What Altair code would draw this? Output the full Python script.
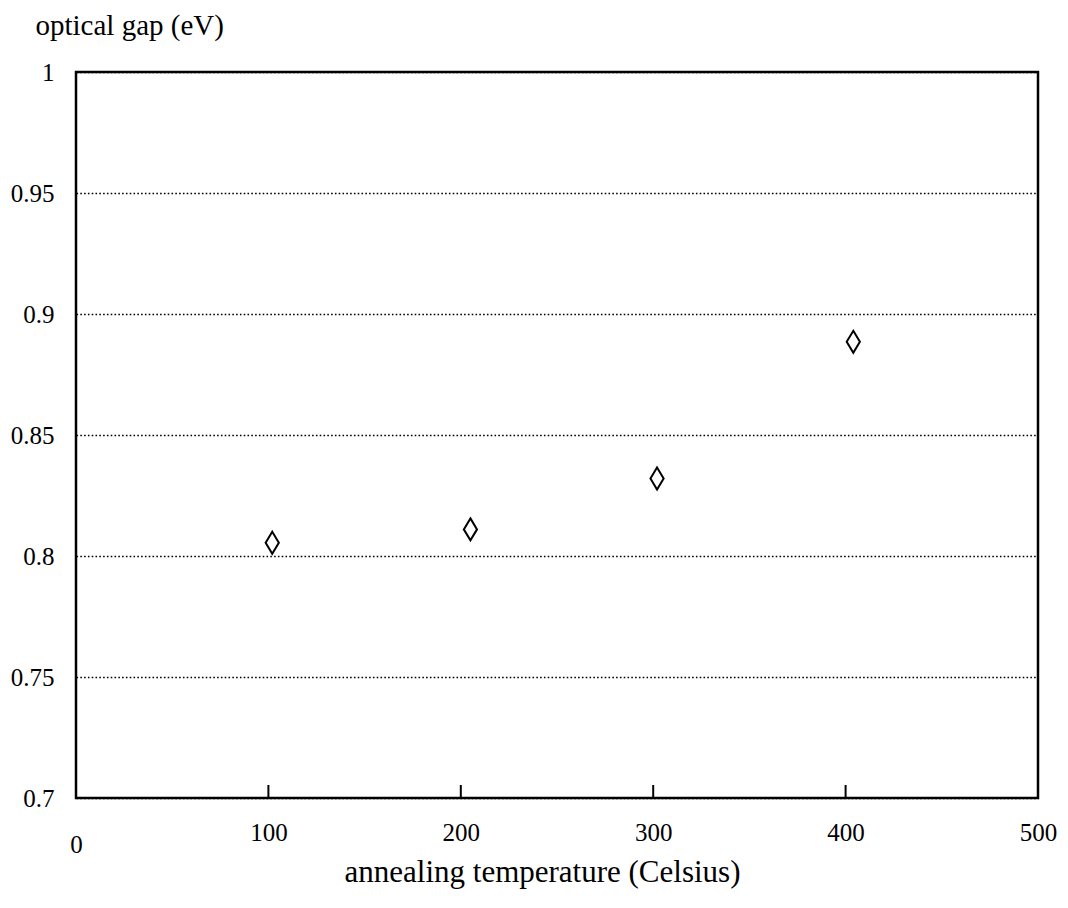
import altair as alt
import pandas as pd

# data
temperature = [102, 205, 302, 404]
optical_gap = [0.8055, 0.811, 0.832, 0.8885]
x_ticks = [100, 200, 300, 400]
x_label_values = [0, 100, 200, 300, 400, 500]
y_label_values = [0.7, 0.75, 0.8, 0.85, 0.9, 0.95, 1.0]

W, H = 962, 726
FONT = "Liberation Serif, Times New Roman, serif"

pts = pd.DataFrame({"t": temperature, "g": optical_gap})
ticks = pd.DataFrame({"t": x_ticks})

xscale = alt.Scale(domain=[0, 500], nice=False, zero=False)
yscale = alt.Scale(domain=[0.7, 1.0], nice=False, zero=False)

diamond = "M0,-1L0.6,0L0,1L-0.6,0Z"

points = alt.Chart(pts).mark_point(
    shape=diamond, size=484, filled=False, color="black", strokeWidth=2, opacity=1
).encode(
    x=alt.X("t:Q", scale=xscale, axis=alt.Axis(
        values=x_label_values, title="annealing temperature (Celsius)",
        domain=False, ticks=False, grid=False, labelFlush=False,
        labelExpr="datum.value == 0 ? ['', '0'] : datum.label",
        labelLineHeight=12, labelPadding=22, labelFontSize=25, labelFont=FONT,
        labelColor="black", titleFont=FONT, titleFontSize=31, titleFontWeight="normal",
        titleColor="black", titleBaseline="alphabetic", titleY=83,
        titleAlign="center", titleX=466)),
    y=alt.Y("g:Q", scale=yscale, axis=alt.Axis(
        values=y_label_values, format="~g", title="optical gap (eV)",
        domain=False, ticks=False, grid=True, gridColor="black", gridDash=[1.6, 2.2],
        gridWidth=1.6, labelPadding=22, labelFontSize=25, labelFont=FONT,
        labelColor="black", titleFont=FONT, titleFontSize=29, titleFontWeight="normal",
        titleColor="black", titleAngle=0, titleAlign="left", titleBaseline="alphabetic",
        titleX=-41, titleY=-38)),
)

tick_rules = alt.Chart(ticks).mark_rule(color="black", strokeWidth=2).encode(
    x=alt.X("t:Q", scale=xscale),
    y=alt.value(H),
    y2=alt.value(H - 13),
)

chart = alt.layer(tick_rules, points).properties(
    width=W, height=H,
    autosize=alt.AutoSizeParams(type="none"),
    padding={"left": 68, "top": 64, "right": 22, "bottom": 102},
).configure(
    background="white", font=FONT
).configure_view(stroke="black", strokeWidth=2.5)

chart.save("out.html", embed_options={"renderer": "svg", "actions": False})
